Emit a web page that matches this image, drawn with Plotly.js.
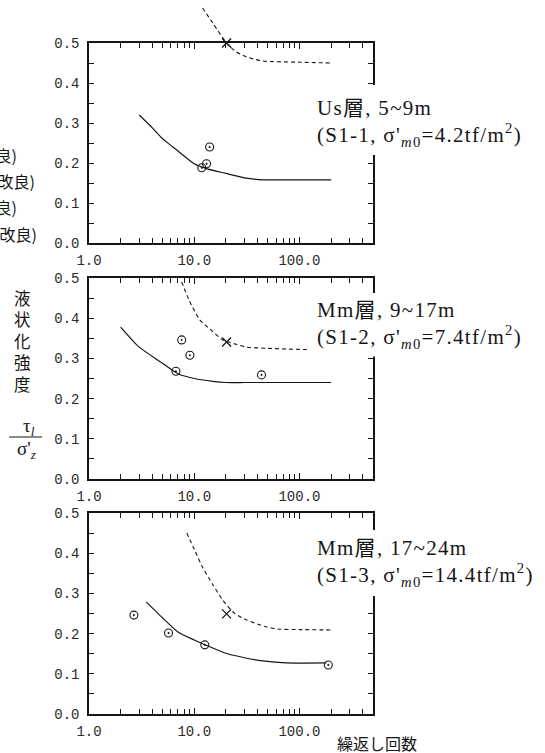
<!DOCTYPE html>
<html>
<head>
<meta charset="utf-8">
<script src="https://cdn.plot.ly/plotly-3.0.1.min.js"></script>
<style>
  html, body { margin: 0; padding: 0; background: #fff; }
  #chart { width: 545px; height: 753px; }
  /* the layer notes are set in a wide book face; open up the tracking */
  text[data-unformatted*="tf/m"] { letter-spacing: 1.3px; }
</style>
</head>
<body>
<div id="chart"></div>
<script>
// ---------------- data ----------------
// cycle-count axis (log scale)
const decadeTicks  = [1, 10, 100];
const decadeLabels = ['1.0', '10.0', '100.0'];
const minorTicks   = [2, 3, 4, 5, 6, 7, 8, 9, 20, 30, 40, 50, 60, 70, 80, 90, 200, 300, 400, 500];

// Us layer, 5~9m (S1-1)
const us_curveN  = [3, 4, 5, 7, 10, 13, 20, 30, 45, 100, 200];
const us_curveR  = [0.32, 0.288, 0.261, 0.23, 0.198, 0.186, 0.174, 0.163, 0.158, 0.158, 0.158];
const us_testN   = [11.8, 13.1, 14.0];
const us_testR   = [0.188, 0.198, 0.24];
const us_dashN   = [12, 15, 20.3, 25, 31.5, 45, 100, 200];
const us_dashR   = [0.5875, 0.55, 0.5, 0.478, 0.465, 0.455, 0.452, 0.45];
const us_crossN  = [20.3];
const us_crossR  = [0.5];

// Mm layer, 9~17m (S1-2)
const mm1_curveN = [2, 3, 5, 7, 10, 15, 20, 30, 50, 100, 200];
const mm1_curveR = [0.378, 0.328, 0.288, 0.262, 0.25, 0.243, 0.24, 0.24, 0.24, 0.24, 0.24];
const mm1_testN  = [6.7, 7.6, 9.1, 43.6];
const mm1_testR  = [0.268, 0.346, 0.308, 0.259];
const mm1_dashN  = [7.6, 9, 11.3, 14, 18.6, 25, 31.5, 50, 80, 125];
const mm1_dashR  = [0.49, 0.443, 0.396, 0.374, 0.346, 0.335, 0.328, 0.325, 0.323, 0.322];
const mm1_crossN = [20.3];
const mm1_crossR = [0.341];

// Mm layer, 17~24m (S1-3)
const mm2_curveN = [3.5, 5, 7, 10, 13, 20, 30, 45, 75, 180];
const mm2_curveR = [0.279, 0.239, 0.204, 0.184, 0.171, 0.151, 0.14, 0.132, 0.127, 0.127];
const mm2_testN  = [2.67, 5.7, 12.6, 188];
const mm2_testR  = [0.246, 0.2015, 0.172, 0.122];
const mm2_dashN  = [8.5, 10, 12, 15, 18.6, 24, 31.5, 48, 64, 100, 200];
const mm2_dashR  = [0.45, 0.41, 0.365, 0.322, 0.284, 0.251, 0.234, 0.217, 0.211, 0.21, 0.209];
const mm2_crossN = [20.3];
const mm2_crossR = [0.249];

// ---------------- geometry helpers ----------------
const W = 545, H = 753;
const PL = 89, PR = 373.5;                  // plot left / right in px
const px = p => (p - PL) / (PR - PL);       // px -> paper x
const py = p => 1 - p / H;                  // px -> paper y
const panels = [[43, 243], [278, 479], [513, 714]];   // top / bottom px

const INK = '#151515';
const monoFont  = { family: 'Liberation Mono, Courier New, monospace', size: 14, color: '#2a2a2a' };
const serifFont = { family: 'Liberation Serif, Times New Roman, Noto Sans CJK JP, serif', size: 21, color: INK };
const cjkFont   = { family: 'Noto Sans CJK JP, sans-serif', size: 16, color: INK };

function xAxis(anchor, visible) {
  return {
    type: 'log', range: [0, Math.log10(500)], domain: [0, 1], anchor: anchor,
    visible: visible,
    tickmode: 'array', tickvals: decadeTicks, ticktext: decadeLabels,
    ticks: 'inside', ticklen: 6, tickwidth: 1, tickcolor: INK,
    minor: { tickmode: 'array', tickvals: minorTicks, ticks: 'inside', ticklen: 5, tickwidth: 1, tickcolor: INK },
    showline: true, linewidth: 1.7, linecolor: INK, mirror: 'allticks',
    showgrid: false, zeroline: false, tickfont: monoFont, ticklabelstandoff: 3
  };
}
function yAxis(anchor, top, bottom) {
  return {
    range: [0, 0.5], domain: [py(bottom), py(top)], anchor: anchor,
    tickmode: 'linear', tick0: 0, dtick: 0.1, tickformat: '.1f',
    ticks: 'inside', ticklen: 5, tickwidth: 1, tickcolor: INK,
    minor: { dtick: 0.05, ticks: 'inside', ticklen: 5, tickwidth: 1, tickcolor: INK },
    showline: true, linewidth: 1.7, linecolor: INK, mirror: 'allticks',
    showgrid: false, zeroline: false, tickfont: monoFont, ticklabelstandoff: 5
  };
}

// ---------------- traces ----------------
const solid  = { color: INK, width: 1.2, shape: 'spline', smoothing: 0.6 };
const dashed = { color: INK, width: 1.1, dash: '4px,3px', shape: 'spline', smoothing: 0.6 };
const circle = { symbol: 'circle-open-dot', size: 8, color: INK, line: { color: INK, width: 1.1 } };
const cross  = { symbol: 'x-thin-open', size: 9, color: INK, line: { color: INK, width: 1.3 } };

function panelTraces(xa, ya, yaDash, c) {
  const xaDash = yaDash === ya ? xa : 'x4';
  return [
    { x: c.curveN, y: c.curveR, xaxis: xa, yaxis: ya, mode: 'lines', line: solid },
    { x: c.testN,  y: c.testR,  xaxis: xa, yaxis: ya, mode: 'markers', marker: circle, cliponaxis: false },
    { x: c.dashN,  y: c.dashR,  xaxis: xaDash, yaxis: yaDash, mode: 'lines', line: dashed },
    { x: c.crossN, y: c.crossR, xaxis: xaDash, yaxis: yaDash, mode: 'markers', marker: cross, cliponaxis: false }
  ];
}

const data = [].concat(
  panelTraces('x', 'y', 'y4', { curveN: us_curveN, curveR: us_curveR, testN: us_testN, testR: us_testR,
                               dashN: us_dashN, dashR: us_dashR, crossN: us_crossN, crossR: us_crossR }),
  panelTraces('x2', 'y2', 'y2', { curveN: mm1_curveN, curveR: mm1_curveR, testN: mm1_testN, testR: mm1_testR,
                                 dashN: mm1_dashN, dashR: mm1_dashR, crossN: mm1_crossN, crossR: mm1_crossR }),
  panelTraces('x3', 'y3', 'y3', { curveN: mm2_curveN, curveR: mm2_curveR, testN: mm2_testN, testR: mm2_testR,
                                 dashN: mm2_dashN, dashR: mm2_dashR, crossN: mm2_crossN, crossR: mm2_crossR })
);

// ---------------- annotations ----------------
const sub = s => '<sub>' + s + '</sub>';
const layerNotes = [
  { y: 123, text: 'Us層, 5~9m<br>(S1-1, σ\'' + sub('<i>m</i>0') + '=4.2tf/m<sup>2</sup>)' },
  { y: 325, text: 'Mm層, 9~17m<br>(S1-2, σ\'' + sub('<i>m</i>0') + '=7.4tf/m<sup>2</sup>)' },
  { y: 563, text: 'Mm層, 17~24m<br>(S1-3, σ\'' + sub('<i>m</i>0') + '=14.4tf/m<sup>2</sup>)' }
];

const annotations = layerNotes.map(n => ({
  xref: 'paper', yref: 'paper', x: px(312), y: py(n.y), xanchor: 'left', yanchor: 'middle',
  text: n.text, align: 'left', showarrow: false, font: serifFont,
  bgcolor: '#ffffff', borderpad: 4
}));

// legend entries continuing from the left of the figure
const legendRows = [
  { y: 155, right: 19, text: '─── 推定強度 (改良)' },
  { y: 181, right: 37, text: '─── 推定強度 (非改良)' },
  { y: 207, right: 19, text: '○ 室内試験 (改良)' },
  { y: 234, right: 39, text: '○ 室内試験 (非改良)' }
];
legendRows.forEach(r => annotations.push({
  xref: 'paper', yref: 'paper', x: px(r.right), y: py(r.y), xanchor: 'right', yanchor: 'middle',
  text: r.text, showarrow: false, font: cjkFont
}));

// y-axis title: vertical characters and τl / σ'z ratio
annotations.push({
  xref: 'paper', yref: 'paper', x: px(22), y: py(341), xanchor: 'center', yanchor: 'middle',
  text: '液<br>状<br>化<br>強<br>度', showarrow: false, font: { family: cjkFont.family, size: 16.5, color: INK }
});
annotations.push({
  xref: 'paper', yref: 'paper', x: px(29), y: py(427), xanchor: 'center', yanchor: 'middle',
  text: 'τ' + sub('<i>l</i>'), showarrow: false, font: { family: serifFont.family, size: 19, color: INK }
});
annotations.push({
  xref: 'paper', yref: 'paper', x: px(26), y: py(450), xanchor: 'center', yanchor: 'middle',
  text: 'σ\'' + sub('<i>z</i>'), showarrow: false, font: { family: serifFont.family, size: 19, color: INK }
});
// x-axis title
annotations.push({
  xref: 'paper', yref: 'paper', x: px(378), y: py(743), xanchor: 'center', yanchor: 'middle',
  text: '繰返し回数', showarrow: false, font: cjkFont
});

const shapes = [
  // fraction bar of τl / σ'z
  { type: 'line', xref: 'paper', yref: 'paper', x0: px(9), x1: px(42), y0: py(437), y1: py(437),
    line: { color: INK, width: 1.2 } },
  // gaps in the right-hand frame behind the layer notes
  { type: 'rect', layer: 'above', xref: 'paper', yref: 'paper', x0: px(362), x1: px(384), y0: py(155), y1: py(85),
    fillcolor: '#ffffff', line: { width: 0 } },
  { type: 'rect', layer: 'above', xref: 'paper', yref: 'paper', x0: px(362), x1: px(384), y0: py(356), y1: py(293),
    fillcolor: '#ffffff', line: { width: 0 } },
  { type: 'rect', layer: 'above', xref: 'paper', yref: 'paper', x0: px(362), x1: px(384), y0: py(596), y1: py(530),
    fillcolor: '#ffffff', line: { width: 0 } }
];

const layout = {
  width: W, height: H,
  margin: { l: PL, r: W - PR, t: 0, b: 0, pad: 0, autoexpand: false },
  paper_bgcolor: '#ffffff', plot_bgcolor: 'rgba(0,0,0,0)',
  showlegend: false,
  xaxis:  xAxis('y', true),
  xaxis2: xAxis('y2', true),
  xaxis3: xAxis('y3', true),
  xaxis4: xAxis('y4', false),
  yaxis:  yAxis('x', panels[0][0], panels[0][1]),
  yaxis2: yAxis('x2', panels[1][0], panels[1][1]),
  yaxis3: yAxis('x3', panels[2][0], panels[2][1]),
  // extends above the top frame with the same scale, for the estimate curve that leaves the box
  yaxis4: { visible: false, anchor: 'x4', domain: [py(panels[0][1]), 1],
            range: [0, panels[0][1] / ((panels[0][1] - panels[0][0]) / 0.5)] },
  annotations: annotations,
  shapes: shapes
};

Plotly.newPlot('chart', data, layout, { staticPlot: true, displayModeBar: false });
</script>
</body>
</html>
